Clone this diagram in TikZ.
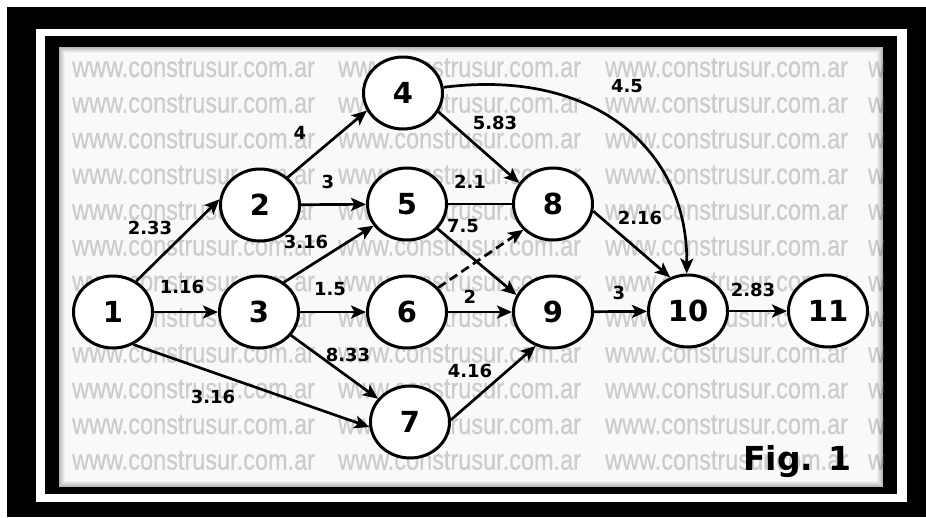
\documentclass[tikz,border=0pt]{standalone}
\usepackage{fontspec}
\setmainfont{DejaVu Sans}
\newfontfamily\wmfont[FakeBold=0.6]{Liberation Sans}
\usetikzlibrary{shapes.geometric,arrows.meta}
\definecolor{wmgray}{gray}{0.80}
\definecolor{paper}{gray}{0.975}

\begin{document}
\begin{tikzpicture}[x=1pt,y=-1pt,
  evt/.style={ellipse, draw, line width=3pt, fill=white, minimum width=79pt,
    minimum height=72pt, inner sep=0pt, font=\fontsize{29}{29}\selectfont\bfseries},
  act/.style={line width=2.7pt, -{Stealth[length=15pt,width=13pt,inset=3.5pt]}},
  dummy/.style={act, dash pattern=on 9pt off 5pt},
  link/.style={line width=2.7pt},
  dur/.style={font=\fontsize{18}{18}\selectfont\bfseries, inner sep=0pt},
  wm/.style={anchor=base west, inner sep=0pt, text=wmgray,
    font=\wmfont\fontsize{29}{29}\selectfont}
]
\useasboundingbox (0,0) rectangle (926,517);

% frame: black band, white band, black band, paper
\fill[white] (0,0) rectangle (926,517);
\fill[black] (7,7) rectangle (926,517);
\fill[white] (36,29) rectangle (907,502);
\fill[black] (45,36) rectangle (897,494);
\fill[paper] (59,47) rectangle (883,487);

% watermark rows
\begin{scope}
  \clip (59,47) rectangle (883,487);
  \foreach \k in {0,...,11} {
    \foreach \cx in {72,338,605,868} {
      \node[wm] at (\cx,{77+35.7*\k}) {\scalebox{0.81}[1]{www.construsur.com.ar}};
    }
  }
  % soft inner shadow along the paper edge
  \foreach \i in {0,...,5} {
    \draw[black, opacity={0.26-0.045*\i}, line width=1pt]
      ({59.5+\i},{47.5+\i}) rectangle ({882.5-\i},{486.5-\i});
  }
\end{scope}

% events
\node[evt] (n1)  at (113,312) {1};
\node[evt] (n2)  at (260,205) {2};
\node[evt] (n3)  at (259,312) {3};
\node[evt] (n4)  at (403,93)  {4};
\node[evt] (n5)  at (407,204) {5};
\node[evt] (n6)  at (407,312) {6};
\node[evt] (n7)  at (410,422) {7};
\node[evt] (n8)  at (553,204) {8};
\node[evt] (n9)  at (553,312) {9};
\node[evt] (n10) at (688,311) {10};
\node[evt] (n11) at (828,311) {11};

% activities
\draw[act] (n1.53)  -- (n2.172);
\draw[act] (n1)     -- (n3);
\draw[act] (n1.-58) -- (n7.187);
\draw[act] (n2.45)  -- (n4.206);
\draw[act] (n2)     -- (n5);
\draw[act] (n3.50)  -- (n5.213);
\draw[act] (n3)     -- (n6);
\draw[act] (n3)     -- (n7);
\draw[act] (n4.-28) -- (n8.148);
\draw[act] (n4.8) .. controls (595,68) and (688,150) .. (n10.92);
\draw[link] (n5)    -- (n8);
\draw[act] (n5.-39) -- (n9.155);
\draw[dummy] (n6.38) -- (n8.221);
\draw[act] (n6)     -- (n9);
\draw[act] (n7.3)   -- (n9.243);
\draw[act] (n8.-10) -- (n10.118);
\draw[act] (n9)     -- (n10);
\draw[act] (n10)    -- (n11);

% durations
\node[dur] (d12)  at (150,228) {2.33};
\node[dur] (d13)  at (182,287) {1.16};
\node[dur] (d17)  at (213,397) {3.16};
\node[dur] (d24)  at (300,133) {4};
\node[dur] (d25)  at (328,182) {3};
\node[dur] (d35)  at (306,242) {3.16};
\node[dur] (d36)  at (330,289) {1.5};
\node[dur] (d37)  at (348,355) {8.33};
\node[dur] (d48)  at (495,123) {5.83};
\node[dur] (d410) at (627,86)  {4.5};
\node[dur] (d58)  at (470,182) {2.1};
\node[dur] (d59)  at (463,226) {7.5};
\node[dur] (d69)  at (470,297) {2};
\node[dur] (d79)  at (470,371) {4.16};
\node[dur] (d810) at (640,218) {2.16};
\node[dur] (d910) at (619,293) {3};
\node[dur] (d1011) at (753,290) {2.83};

% caption
\node[anchor=base west, inner sep=0pt, font=\fontsize{33}{33}\selectfont\bfseries]
  (fig) at (743,470) {Fig. 1};
\end{tikzpicture}
\end{document}
